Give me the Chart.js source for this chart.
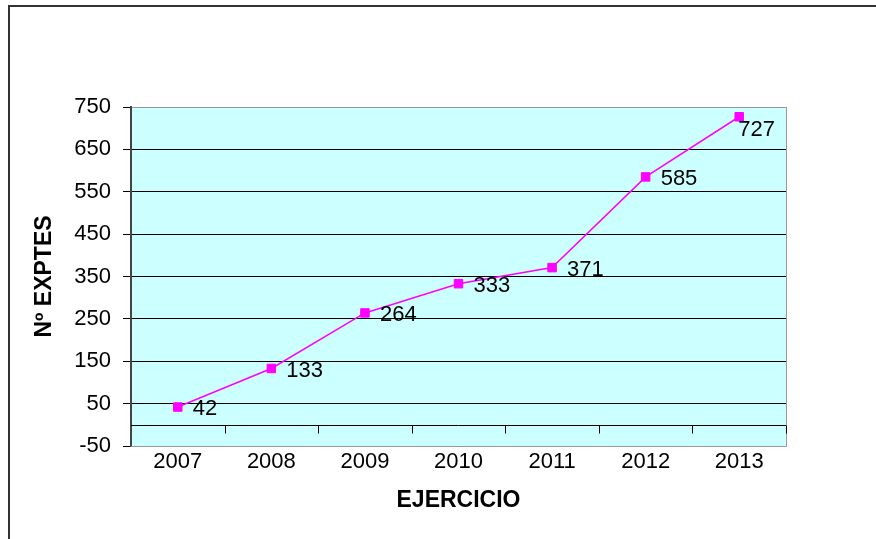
<!DOCTYPE html>
<html>
<head>
<meta charset="utf-8">
<script src="https://cdn.jsdelivr.net/npm/chart.js@4/dist/chart.umd.min.js"></script>
<style>
  html, body { margin: 0; padding: 0; background: #fff; }
  #wrap { width: 876px; height: 539px; }
</style>
</head>
<body>
<div id="wrap"><canvas id="chart" width="876" height="539"></canvas></div>
<script>
const years = ["2007", "2008", "2009", "2010", "2011", "2012", "2013"]
const expedientes = [42, 133, 264, 333, 371, 585, 727]
const yTicks = [-50, 50, 150, 250, 350, 450, 550, 650, 750]

const fontFamily = "'Liberation Sans', Arial, sans-serif"

// fondo del area, marco exterior, linea del cero y etiquetas de valor
const decoPlugin = {
     id: "deco",
     beforeDraw(chart) {
          const ctx = chart.ctx
          const a = chart.chartArea
          ctx.save()
          ctx.fillStyle = "#fff"
          ctx.fillRect(0, 0, chart.width, chart.height)
          ctx.strokeStyle = "#333"
          ctx.lineWidth = 2
          ctx.strokeRect(9, 6, chart.width + 20, chart.height + 20)
          ctx.fillStyle = "#CCFFFF"
          ctx.fillRect(a.left, a.top, a.right - a.left, a.bottom - a.top)
          ctx.restore()
     },
     beforeDatasetsDraw(chart) {
          const ctx = chart.ctx
          const a = chart.chartArea
          const x = chart.scales.x
          const y0 = Math.round(chart.scales.y.getPixelForValue(0)) + 0.5
          ctx.save()
          ctx.strokeStyle = "#999"
          ctx.lineWidth = 1
          ctx.beginPath()
          ctx.moveTo(a.right + 0.5, a.top)
          ctx.lineTo(a.right + 0.5, a.bottom + 0.5)
          ctx.lineTo(a.left, a.bottom + 0.5)
          ctx.stroke()
          ctx.strokeStyle = "#000"
          ctx.beginPath()
          ctx.moveTo(a.left, y0)
          ctx.lineTo(a.right, y0)
          for (let i = 1; i <= years.length; i++) {
               let bx = i < years.length ? (x.getPixelForValue(i - 1) + x.getPixelForValue(i)) / 2 : a.right
               bx = Math.round(bx) + 0.5
               ctx.moveTo(bx, y0)
               ctx.lineTo(bx, y0 + 8)
          }
          ctx.stroke()
          ctx.restore()
     },
     afterDatasetsDraw(chart) {
          const ctx = chart.ctx
          const a = chart.chartArea
          const meta = chart.getDatasetMeta(0)
          ctx.save()
          ctx.fillStyle = "#000"
          ctx.font = "22px " + fontFamily
          ctx.textAlign = "left"
          ctx.textBaseline = "middle"
          meta.data.forEach(function (pt, i) {
               const txt = String(expedientes[i])
               const w = ctx.measureText(txt).width
               if (pt.x + 15 + w > a.right) {
                    // no cabe a la derecha: va debajo del punto
                    ctx.fillText(txt, pt.x - 1, pt.y + 13)
               } else {
                    ctx.fillText(txt, pt.x + 15, pt.y + 2)
               }
          })
          ctx.restore()
     }
}

new Chart(document.getElementById("chart"), {
     type: "line",
     data: {
          labels: years,
          datasets: [{
               label: "Nº EXPTES",
               data: expedientes,
               borderColor: "#FF00FF",
               backgroundColor: "#FF00FF",
               borderWidth: 1.5,
               pointStyle: "rect",
               pointRadius: 6,
               pointBorderWidth: 1,
               tension: 0
          }]
     },
     options: {
          responsive: false,
          animation: false,
          layout: { padding: { left: 0, top: 107, right: 90, bottom: 0 } },
          plugins: {
               legend: { display: false },
               tooltip: { enabled: false }
          },
          scales: {
               x: {
                    offset: true,
                    grid: { display: false, drawTicks: false },
                    border: { display: false },
                    ticks: {
                         color: "#000",
                         padding: 3,
                         font: { family: fontFamily, size: 22 }
                    },
                    title: {
                         display: true,
                         text: "EJERCICIO",
                         color: "#000",
                         padding: { top: 0, bottom: 25 },
                         font: { family: fontFamily, size: 23, weight: "bold" }
                    },
                    afterFit(scale) { scale.height = 93 }
               },
               y: {
                    min: -50,
                    max: 750,
                    afterBuildTicks(scale) {
                         scale.ticks = yTicks.map(v => ({ value: v }))
                    },
                    grid: {
                         color: ctx => (ctx.tick && (ctx.tick.value === 750 || ctx.tick.value === -50)) ? "#999" : "#000",
                         tickColor: "#000",
                         tickLength: 8,
                         lineWidth: 1
                    },
                    border: { color: "#444", width: 2 },
                    ticks: {
                         color: "#000",
                         padding: 12,
                         font: { family: fontFamily, size: 22 }
                    },
                    title: {
                         display: true,
                         text: "Nº EXPTES",
                         color: "#000",
                         padding: { top: 31, bottom: 0 },
                         font: { family: fontFamily, size: 23, weight: "bold" }
                    },
                    afterFit(scale) { scale.width = 131 }
               }
          }
     },
     plugins: [decoPlugin]
})
</script>
</body>
</html>
